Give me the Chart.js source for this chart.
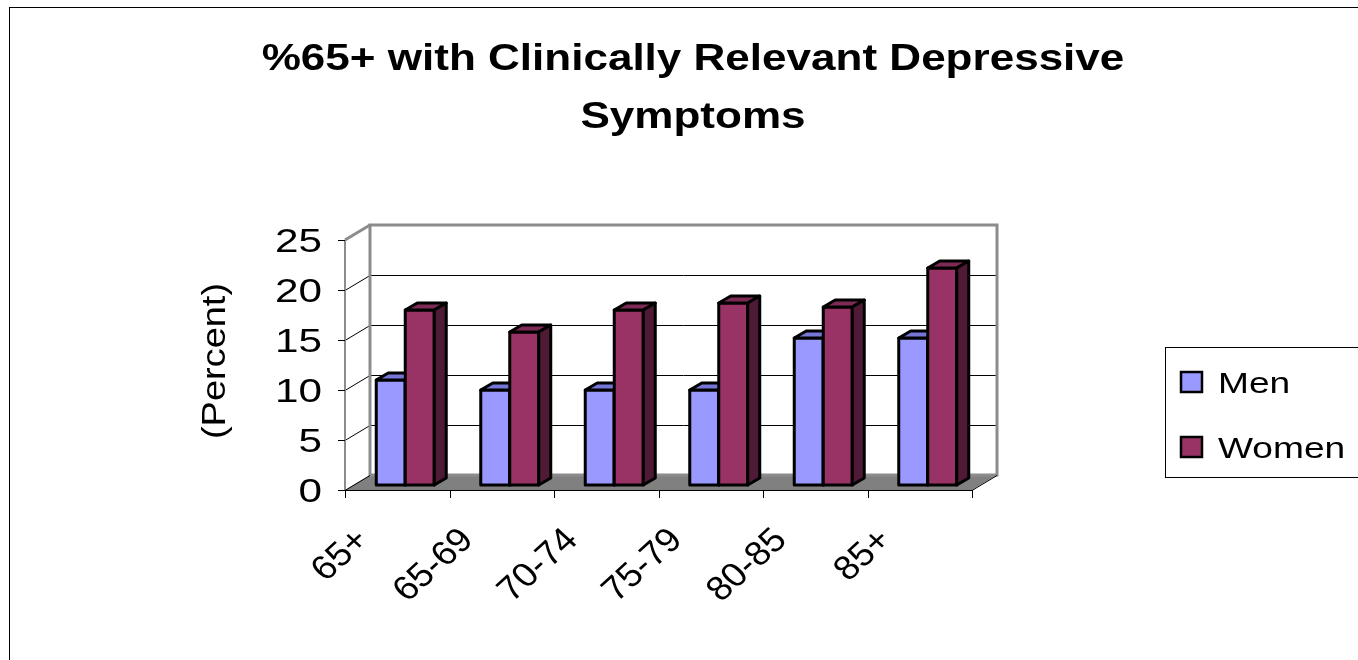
<!DOCTYPE html>
<html>
<head>
<meta charset="utf-8">
<title>%65+ with Clinically Relevant Depressive Symptoms</title>
<script src="https://cdn.jsdelivr.net/npm/chart.js@4.4.1/dist/chart.umd.min.js"></script>
<style>
  html, body { margin: 0; padding: 0; background: #ffffff; }
  #wrap { width: 1358px; height: 660px; }
</style>
</head>
<body>
<div id="wrap"><canvas id="barChart" width="1358" height="660"></canvas></div>
<script>
// Chart data
const categories = ["65+", "65-69", "70-74", "75-79", "80-85", "85+"];
const seriesNames = ["Men", "Women"];
const menValues = [10.5, 9.5, 9.5, 9.5, 14.7, 14.7];
const womenValues = [17.5, 15.3, 17.5, 18.2, 17.8, 21.7];
const yTickValues = [0, 5, 10, 15, 20, 25];
const titleLines = ["%65+ with Clinically Relevant Depressive", "Symptoms"];
const yAxisTitle = "(Percent)";

const FONT = "'Liberation Sans', Arial, sans-serif";

// Face colours for the fake 3D bars
const faceColors = [
  { front: "#9999ff", top: "#7676d6", side: "#5c5ca3" },
  { front: "#993366", top: "#7d2a54", side: "#4f1a36" },
];

// Depth offsets relative to the plane the bars stand in
const FRONT = { x: -8, y: 5 };
const BACK = { x: 17, y: -10 };
const BAR_DEPTH = { x: 12, y: -7 };

function poly(ctx, pts, fill, stroke, lw) {
  ctx.beginPath();
  ctx.moveTo(pts[0][0], pts[0][1]);
  for (let i = 1; i < pts.length; i++) ctx.lineTo(pts[i][0], pts[i][1]);
  ctx.closePath();
  if (fill) {
    ctx.fillStyle = fill;
    ctx.fill();
  }
  if (stroke) {
    ctx.strokeStyle = stroke;
    ctx.lineWidth = lw;
    ctx.stroke();
  }
}

function line(ctx, x1, y1, x2, y2, color, lw) {
  ctx.beginPath();
  ctx.moveTo(x1, y1);
  ctx.lineTo(x2, y2);
  ctx.strokeStyle = color;
  ctx.lineWidth = lw;
  ctx.stroke();
}

// Text drawn a little wider than the font, like the original Excel output
function text(ctx, str, x, y, o) {
  ctx.save();
  ctx.translate(x, y);
  if (o.preScale) ctx.scale(o.preScale, 1);
  if (o.rotate) ctx.rotate(o.rotate);
  ctx.scale(o.sx || 1, 1);
  ctx.font = o.font;
  ctx.fillStyle = "#000000";
  ctx.textAlign = o.align || "left";
  ctx.textBaseline = o.baseline || "alphabetic";
  ctx.fillText(str, 0, 0);
  ctx.restore();
}

const depthPlugin = {
  id: "depth3d",
  beforeDraw(chart) {
    const ctx = chart.ctx;
    ctx.save();
    ctx.fillStyle = "#ffffff";
    ctx.fillRect(0, 0, chart.width, chart.height);
    // outer frame
    ctx.strokeStyle = "#000000";
    ctx.lineWidth = 1;
    ctx.strokeRect(9.5, 7.5, chart.width + 20, chart.height + 20);
    ctx.restore();
  },
  beforeDatasetsDraw(chart) {
    const ctx = chart.ctx;
    const area = chart.chartArea;
    const yScale = chart.scales.y;
    const xScale = chart.scales.x;
    const L = area.left, R = area.right;
    const y0 = yScale.getPixelForValue(0);
    const yTop = yScale.getPixelForValue(yTickValues[yTickValues.length - 1]);

    ctx.save();
    ctx.lineCap = "butt";

    // floor
    poly(ctx, [
      [L + FRONT.x, y0 + FRONT.y],
      [R + FRONT.x, y0 + FRONT.y],
      [R + BACK.x, y0 + BACK.y],
      [L + BACK.x, y0 + BACK.y],
    ], "#808080", null, 0);

    // gridlines on back wall and left wall
    yTickValues.forEach((v) => {
      if (v === 0 || v === yTickValues[yTickValues.length - 1]) return;
      const py = Math.round(yScale.getPixelForValue(v)) + 0.5;
      line(ctx, L + BACK.x, py + BACK.y, R + BACK.x, py + BACK.y, "#000000", 1);
      line(ctx, L + FRONT.x, py + FRONT.y, L + BACK.x, py + BACK.y, "#000000", 1);
    });

    // back wall and left wall edges
    ctx.lineJoin = "miter";
    poly(ctx, [
      [L + BACK.x, y0 + BACK.y],
      [L + BACK.x, yTop + BACK.y],
      [R + BACK.x, yTop + BACK.y],
      [R + BACK.x, y0 + BACK.y],
    ], null, "#8c8c8c", 3);
    line(ctx, L + FRONT.x, yTop + FRONT.y, L + BACK.x, yTop + BACK.y, "#8c8c8c", 3);
    line(ctx, L + FRONT.x, yTop + FRONT.y, L + FRONT.x, y0 + FRONT.y, "#8c8c8c", 2);
    line(ctx, L + FRONT.x, y0 + FRONT.y + 0.5, L + BACK.x, y0 + BACK.y + 0.5, "#000000", 1);

    // front floor edge and right edge
    line(ctx, L + FRONT.x, y0 + FRONT.y + 0.5, R + FRONT.x, y0 + FRONT.y + 0.5, "#000000", 1);
    line(ctx, R + FRONT.x, y0 + FRONT.y + 0.5, R + BACK.x, y0 + BACK.y + 0.5, "#000000", 1);

    // y tick marks and labels
    yTickValues.forEach((v) => {
      const py = yScale.getPixelForValue(v) + FRONT.y;
      line(ctx, L + FRONT.x - 7, Math.round(py) + 0.5, L + FRONT.x, Math.round(py) + 0.5, "#000000", 1);
      text(ctx, String(v), L + FRONT.x - 23, py + 12, {
        font: "33px " + FONT, sx: 1.28, align: "right",
      });
    });

    // y axis title
    text(ctx, yAxisTitle, 216, (yTop + y0) / 2 + 1, {
      font: "33px " + FONT, sx: 1.15, align: "center", baseline: "middle", rotate: -Math.PI / 2,
    });

    // x tick marks at category boundaries and rotated labels
    const step = (R - L) / categories.length;
    for (let i = 0; i <= categories.length; i++) {
      const px = Math.round(xScale.getPixelForValue(0) - step / 2 + i * step + FRONT.x) + 0.5;
      line(ctx, px, y0 + FRONT.y, px, y0 + FRONT.y + 8, "#000000", 1);
    }
    categories.forEach((c, i) => {
      const px = xScale.getPixelForValue(i) + FRONT.x;
      text(ctx, c, px - 34, y0 + FRONT.y + 45, {
        font: "34px " + FONT, preScale: 1.1, align: "right", baseline: "middle", rotate: -Math.PI / 4,
      });
    });

    // bars with top and side faces
    ctx.lineJoin = "round";
    for (let i = 0; i < categories.length; i++) {
      chart.data.datasets.forEach((ds, d) => {
        const el = chart.getDatasetMeta(d).data[i];
        const c = faceColors[d];
        const left = el.x - el.width / 2;
        const right = el.x + el.width / 2;
        const top = el.y;
        const bottom = el.base;
        poly(ctx, [[left, top], [right, top], [right, bottom], [left, bottom]], c.front, "#000000", 3);
        poly(ctx, [
          [left, top], [right, top],
          [right + BAR_DEPTH.x, top + BAR_DEPTH.y],
          [left + BAR_DEPTH.x, top + BAR_DEPTH.y],
        ], c.top, "#000000", 3);
        poly(ctx, [
          [right, top],
          [right + BAR_DEPTH.x, top + BAR_DEPTH.y],
          [right + BAR_DEPTH.x, bottom + BAR_DEPTH.y],
          [right, bottom],
        ], c.side, "#000000", 3);
      });
    }
    ctx.restore();
    return false;
  },
  afterDraw(chart) {
    const ctx = chart.ctx;
    ctx.save();

    // chart title
    titleLines.forEach((t, i) => {
      text(ctx, t, 693, 70 + i * 58, {
        font: "bold 37px " + FONT, sx: 1.19, align: "center",
      });
    });

    // legend box
    ctx.strokeStyle = "#000000";
    ctx.lineWidth = 1;
    ctx.strokeRect(1165.5, 347.5, 220, 130);
    chart.data.datasets.forEach((ds, d) => {
      const cy = 382 + d * 65;
      ctx.fillStyle = ds.backgroundColor;
      ctx.fillRect(1181, cy - 10, 21, 20);
      ctx.strokeStyle = "#000000";
      ctx.lineWidth = 2.5;
      ctx.strokeRect(1181, cy - 10, 21, 20);
      text(ctx, ds.label, 1218, cy + 11, { font: "29px " + FONT, sx: 1.28 });
    });
    ctx.restore();
  },
};

const ctx = document.getElementById("barChart").getContext("2d");
new Chart(ctx, {
  type: "bar",
  data: {
    labels: categories,
    datasets: [
      { label: seriesNames[0], data: menValues, backgroundColor: faceColors[0].front },
      { label: seriesNames[1], data: womenValues, backgroundColor: faceColors[1].front },
    ],
  },
  options: {
    responsive: false,
    animation: false,
    events: [],
    categoryPercentage: 0.555,
    barPercentage: 1.0,
    layout: {
      padding: { left: 353, right: 378, top: 235, bottom: 175 },
    },
    plugins: {
      legend: { display: false },
      tooltip: { enabled: false },
      title: { display: false },
    },
    scales: {
      x: { display: false },
      y: { display: false, min: 0, max: 25, ticks: { stepSize: 5 } },
    },
  },
  plugins: [depthPlugin],
});
</script>
</body>
</html>
